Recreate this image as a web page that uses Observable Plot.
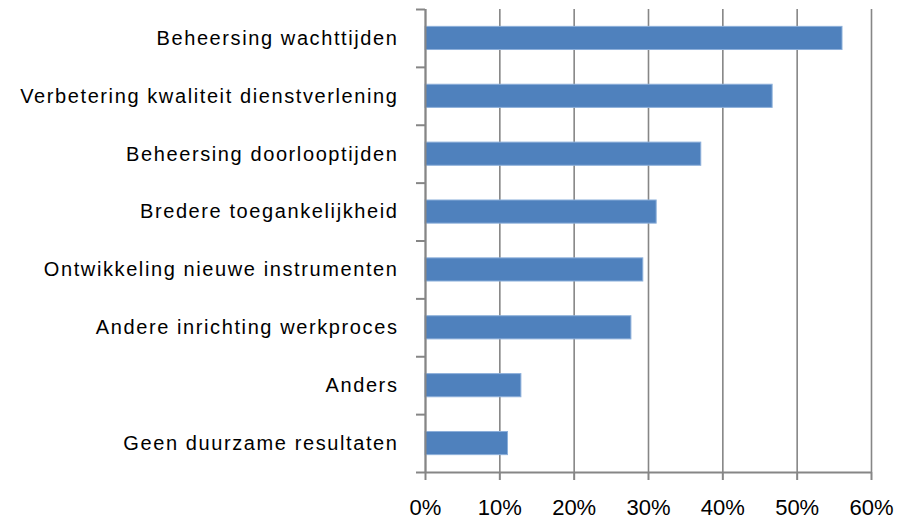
<!DOCTYPE html>
<html>
<head>
<meta charset="utf-8">
<script src="https://cdn.jsdelivr.net/npm/d3@7"></script>
<script src="https://cdn.jsdelivr.net/npm/@observablehq/plot@0.6"></script>
<style>
  html, body { margin: 0; padding: 0; background: #fff; }
  #chart svg { display: block; }
  #chart g[aria-label="y-axis tick label"] text { letter-spacing: 1.6px; }
</style>
</head>
<body>
<div id="chart"></div>
<script>
const categories = [
  "Beheersing wachttijden",
  "Verbetering kwaliteit dienstverlening",
  "Beheersing doorlooptijden",
  "Bredere toegankelijkheid",
  "Ontwikkeling nieuwe instrumenten",
  "Andere inrichting werkproces",
  "Anders",
  "Geen duurzame resultaten"
];
const values = [0.561, 0.467, 0.371, 0.311, 0.293, 0.277, 0.129, 0.111];
const xTicks = [0, 0.1, 0.2, 0.3, 0.4, 0.5, 0.6];

const data = categories.map((c, i) => ({ category: c, value: values[i], i }));
const centers = categories.map((c, i) => i + 0.5);
const bounds = d3.range(categories.length + 1);

const grey = "#868686";

const chart = Plot.plot({
  width: 897,
  height: 520,
  marginLeft: 425,
  marginRight: 26,
  marginTop: 9,
  marginBottom: 48,
  style: { fontFamily: "Liberation Sans, Arial, sans-serif", fontSize: "20px", color: "#000", background: "#fff" },
  x: { domain: [0, 0.6], label: null },
  y: { domain: [0, categories.length], reverse: true, label: null },
  marks: [
    Plot.gridX(xTicks, { stroke: grey, strokeOpacity: 1, strokeWidth: 1.6 }),
    Plot.rectX(data, {
      x1: 0, x2: "value",
      y1: d => d.i + 0.3, y2: d => d.i + 0.7,
      fill: "#4F81BD", stroke: "#8DB0DA", strokeWidth: 1
    }),
    Plot.ruleX([0], { stroke: grey, strokeWidth: 2 }),
    Plot.ruleY([categories.length], { stroke: grey, strokeWidth: 2 }),
    Plot.axisX({ ticks: xTicks, tickFormat: d3.format(".0%"), tickSize: 8, tickPadding: 19, stroke: grey, strokeWidth: 2, fontSize: 22, label: null }),
    Plot.axisY({ ticks: bounds, tickFormat: () => "", tickSize: 9, stroke: grey, strokeWidth: 2, label: null }),
    Plot.axisY({ ticks: centers, tickFormat: (d) => categories[Math.round(d - 0.5)], tickSize: 0, tickPadding: 27, fontSize: 20, label: null })
  ]
});
document.getElementById("chart").appendChild(chart);
</script>
</body>
</html>
